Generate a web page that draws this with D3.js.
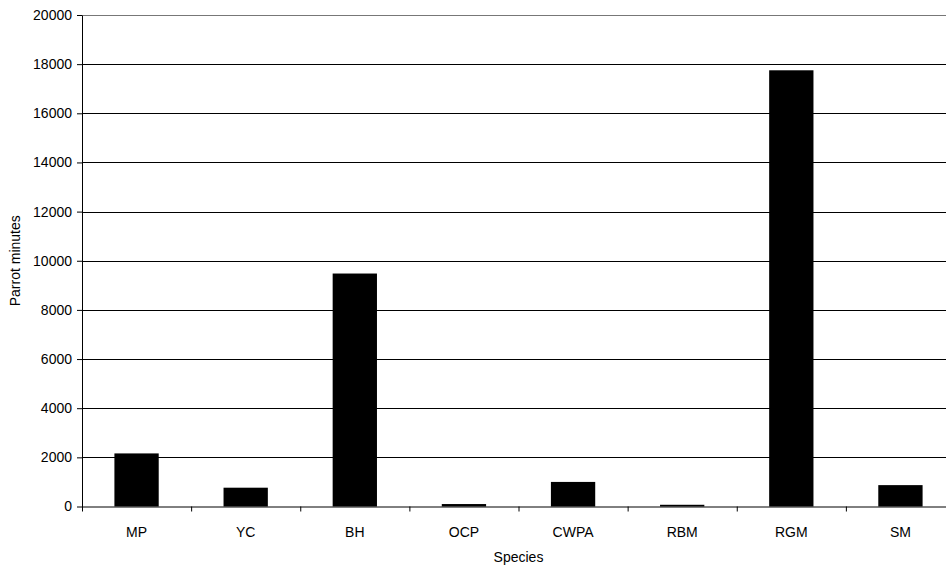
<!DOCTYPE html>
<html>
<head>
<meta charset="utf-8">
<script src="https://cdn.jsdelivr.net/npm/d3@7"></script>
<style>
  body { margin:0; background:#fff; }
  svg { display:block; font-family:"Liberation Sans", Arial, sans-serif; }
  .axis text { font-size:14px; fill:#000; }
  .axis path, .axis line { stroke:#000; }
</style>
</head>
<body>
<div id="chart"></div>
<script>
const species = ["MP","YC","BH","OCP","CWPA","RBM","RGM","SM"];
const minutes = [2160, 765, 9480, 100, 1000, 70, 17750, 870];
const yTicks  = [0,2000,4000,6000,8000,10000,12000,14000,16000,18000,20000];

const totalW=946, totalH=567;
const margin = { top:15, left:82, right:-9, bottom:60 };
const W = totalW-margin.left-margin.right, H = 506.5-margin.top;

const svg = d3.select("#chart").append("svg")
    .attr("width",totalW).attr("height",totalH)
    .append("g").attr("transform",`translate(${margin.left},${margin.top})`);

const x = d3.scaleBand().domain(species).range([0,W]).paddingInner(0.594).paddingOuter(0.297);
const y = d3.scaleLinear().domain([0,20000]).range([H,0]);

// grid
svg.append("g").selectAll("line").data(yTicks.filter(d=>d>0)).enter().append("line")
    .attr("x1",0).attr("x2",W).attr("y1",d=>Math.round(y(d))+0.5).attr("y2",d=>Math.round(y(d))+0.5)
    .attr("stroke",d=>d===20000?"#777":"#000").attr("stroke-width",1);

// bars
svg.selectAll(".bar").data(species).enter().append("rect")
    .attr("x",d=>x(d)).attr("width",x.bandwidth())
    .attr("y",(d,i)=>y(minutes[i])).attr("height",(d,i)=>H-y(minutes[i]))
    .attr("fill","#000");

// axes
const xb = d3.scaleLinear().domain([0,species.length]).range([0,W]);
svg.append("g").attr("class","axis").attr("transform",`translate(0,${H})`)
    .call(d3.axisBottom(xb).tickValues(d3.range(0,species.length+1)).tickSize(5).tickSizeOuter(0).tickFormat(""))
    .call(g=>g.select(".domain").attr("stroke","#444"));
svg.append("g").attr("class","axis").attr("transform",`translate(0,${H})`)
    .call(d3.axisBottom(x).tickSize(0).tickPadding(21))
    .call(g=>g.select(".domain").remove());
svg.append("g").attr("class","axis")
    .call(d3.axisLeft(y).tickValues(yTicks).tickSize(5).tickSizeOuter(0).tickPadding(5).tickFormat(d3.format("d")));

svg.append("text").attr("transform","rotate(-90)").attr("x",-(H/2)).attr("y",-62)
    .attr("text-anchor","middle").style("font-size","14px").text("Parrot minutes");
svg.append("text").attr("x",(W)/2).attr("y",H+55)
    .attr("text-anchor","middle").style("font-size","14px").text("Species");
</script>
</body>
</html>
